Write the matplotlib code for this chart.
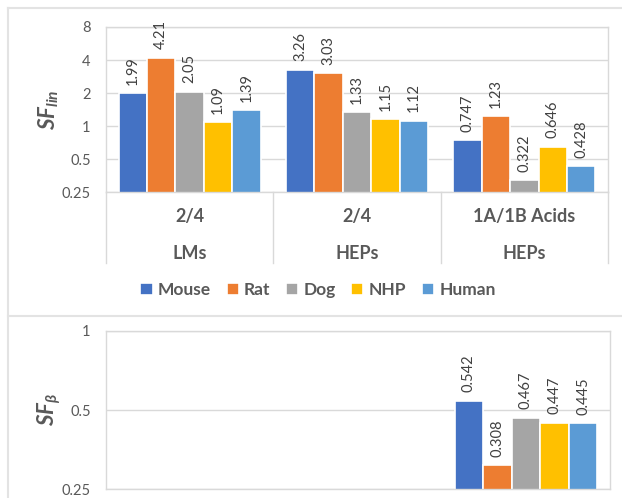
import matplotlib
matplotlib.use("Agg")
import matplotlib.pyplot as plt
import numpy as np
from matplotlib.lines import Line2D

plt.rcParams['font.family'] = ['Lato', 'DejaVu Sans']
plt.rcParams['mathtext.fontset'] = 'custom'
plt.rcParams['mathtext.it'] = 'Lato:italic:bold'
plt.rcParams['mathtext.rm'] = 'Lato:bold'

# data
species = ["Mouse", "Rat", "Dog", "NHP", "Human"]
colors = ["#4472C4", "#ED7D31", "#A5A5A5", "#FFC000", "#5B9BD5"]
groups_top = ["2/4", "2/4", "1A/1B Acids"]
groups_bottom = ["LMs", "HEPs", "HEPs"]

sf_lin = {
    "Mouse": [1.99, 3.26, 0.747],
    "Rat":   [4.21, 3.03, 1.23],
    "Dog":   [2.05, 1.33, 0.322],
    "NHP":   [1.09, 1.15, 0.646],
    "Human": [1.39, 1.12, 0.428],
}
sf_lin_labels = {
    "Mouse": ["1.99", "3.26", "0.747"],
    "Rat":   ["4.21", "3.03", "1.23"],
    "Dog":   ["2.05", "1.33", "0.322"],
    "NHP":   ["1.09", "1.15", "0.646"],
    "Human": ["1.39", "1.12", "0.428"],
}
sf_beta = {
    "Mouse": [np.nan, np.nan, 0.542],
    "Rat":   [np.nan, np.nan, 0.308],
    "Dog":   [np.nan, np.nan, 0.467],
    "NHP":   [np.nan, np.nan, 0.447],
    "Human": [np.nan, np.nan, 0.445],
}
sf_beta_labels = {
    "Mouse": ["", "", "0.542"],
    "Rat":   ["", "", "0.308"],
    "Dog":   ["", "", "0.467"],
    "NHP":   ["", "", "0.447"],
    "Human": ["", "", "0.445"],
}
top_ticks = [0.25, 0.5, 1, 2, 4, 8]
top_ticklabels = ["0.25", "0.5", "1", "2", "4", "8"]
bot_ticks = [0.25, 0.5, 1]
bot_ticklabels = ["0.25", "0.5", "1"]

grid_c = "#d9d9d9"
text_c = "#595959"
W, H = 622, 498

fig = plt.figure(figsize=(W / 100, H / 100), dpi=100)


def ax_rect(x0, y0, x1, y1):
    return [x0 / W, 1 - y1 / H, (x1 - x0) / W, (y1 - y0) / H]


def setup(ax, ticks, ticklabels):
    ax.set_yscale('log', base=2)
    ax.set_ylim(ticks[0], ticks[-1])
    ax.set_yticks(ticks)
    ax.set_yticklabels(ticklabels)
    ax.yaxis.set_minor_locator(matplotlib.ticker.NullLocator())
    ax.set_xlim(-0.5, 2.5)
    ax.set_xticks([])
    ax.tick_params(axis='y', length=0, pad=11, labelsize=10.5, labelcolor=text_c)
    ax.grid(axis='y', color=grid_c, lw=1)
    ax.set_axisbelow(True)
    for s in ax.spines.values():
        s.set_color(grid_c)
        s.set_linewidth(1)


def draw_bars(ax, data, labels):
    x = np.arange(3)
    w = 0.17
    for i, sp in enumerate(species):
        pos = x + (i - 2) * w
        vals = data[sp]
        ax.bar(pos, vals, width=w, color=colors[i], edgecolor='white', lw=1.2, label=sp)
        for p, v, t in zip(pos, vals, labels[sp]):
            if t:
                ax.annotate(t, (p, v), xytext=(0, 6), textcoords='offset points',
                            rotation=90, ha='center', va='bottom', fontsize=10.5, color="#404040")


# top panel
ax1 = fig.add_axes(ax_rect(106, 27, 608, 192))
setup(ax1, top_ticks, top_ticklabels)
draw_bars(ax1, sf_lin, sf_lin_labels)

tr = ax1.get_xaxis_transform()
depth = (263 - 192) / 165
for xs in [-0.5, 0.5, 1.5, 2.5]:
    ax1.add_line(Line2D([xs, xs], [0, -depth], transform=tr, color=grid_c, lw=1, clip_on=False))
for i in range(3):
    ax1.text(i, -(216 - 192) / 165, groups_top[i], transform=tr, ha='center', va='center',
             fontsize=13, fontweight='bold', color=text_c)
    ax1.text(i, -(253 - 192) / 165, groups_bottom[i], transform=tr, ha='center', va='center',
             fontsize=13, fontweight='bold', color=text_c)

fig.text(49 / W, 1 - 110 / H, r'$SF_{lin}$', rotation=90, ha='center', va='center',
         fontsize=16, color=text_c)

handles, lbls = ax1.get_legend_handles_labels()
leg = fig.legend(handles, lbls, loc='center', bbox_to_anchor=(318 / W, 1 - 290 / H), ncol=5,
                 frameon=False, handlelength=0.7, handleheight=0.7, columnspacing=0.9,
                 handletextpad=0.3, prop={'size': 12.5, 'weight': 'bold'})
for t in leg.get_texts():
    t.set_color(text_c)

# bottom panel
ax2 = fig.add_axes(ax_rect(106, 331, 610, 489))
setup(ax2, bot_ticks, bot_ticklabels)
draw_bars(ax2, sf_beta, sf_beta_labels)
fig.text(49 / W, 1 - 410 / H, r'$SF_{\beta}$', rotation=90, ha='center', va='center',
         fontsize=16, color=text_c)

# outer chart borders
fig.add_artist(Line2D([8 / W, 8 / W], [0, 1 - 8 / H], color="#e3e3e3", lw=1.5))
fig.add_artist(Line2D([8 / W, 1], [1 - 8 / H, 1 - 8 / H], color="#e3e3e3", lw=1.5))
fig.add_artist(Line2D([8 / W, 1], [1 - 316 / H, 1 - 316 / H], color="#e3e3e3", lw=1.5))

fig.savefig("out.png", dpi=100)
